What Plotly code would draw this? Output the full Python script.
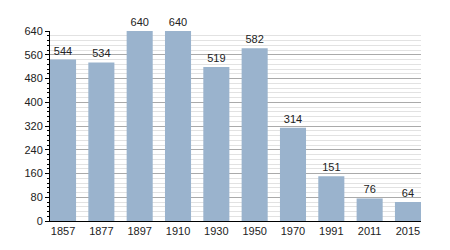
import plotly.graph_objects as go

years = ["1857", "1877", "1897", "1910", "1930", "1950", "1970", "1991", "2011", "2015"]
population = [544, 534, 640, 640, 519, 582, 314, 151, 76, 64]
y_ticks = [0, 80, 160, 240, 320, 400, 480, 560, 640]

fig = go.Figure(go.Bar(
    x=years, y=population,
    marker=dict(color="#9AB3CD", line=dict(width=0)),
    text=[str(v) for v in population], textposition="outside",
    textfont=dict(family="Liberation Sans, Arial", size=11, color="#222"),
    cliponaxis=False,
))
fig.update_layout(
    width=450, height=250,
    margin=dict(l=50, r=29, t=31, b=29),
    paper_bgcolor="white", plot_bgcolor="white",
    bargap=0.32, showlegend=False,
    font=dict(family="Liberation Sans, Arial", size=11, color="#222"),
)
fig.update_xaxes(
    type="category", range=[-0.34, 9.34], showgrid=False, showline=True,
    linecolor="#000", linewidth=1, ticks="", tickfont=dict(size=11, color="#222"),
)
fig.update_yaxes(
    range=[0, 640], tickvals=y_ticks, showline=True, linecolor="#000", linewidth=1,
    ticks="outside", ticklen=4, tickcolor="#000",
    gridcolor="#AAAAAA", gridwidth=1, zeroline=False,
    minor=dict(dtick=16, tick0=0, showgrid=True, gridcolor="#E2E2E2", ticks="outside", ticklen=2, tickcolor="#000"),
    tickfont=dict(size=11, color="#222"),
)
fig.write_html("out.html")
